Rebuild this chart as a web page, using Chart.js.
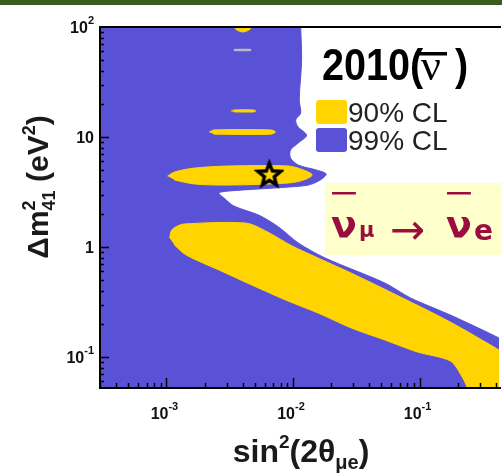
<!DOCTYPE html>
<html>
<head>
<meta charset="utf-8">
<script src="https://cdn.jsdelivr.net/npm/chart.js@4.4.1/dist/chart.umd.min.js"></script>
<style>
  html, body { margin: 0; padding: 0; background: #fff; overflow: hidden; }
  #wrap { width: 502px; height: 476px; position: relative; overflow: hidden; }
</style>
</head>
<body>
<div id="wrap"><canvas id="c" width="503" height="476"></canvas></div>
<script>
// sin^2(2theta) range and dm^2 range shown in the picture
const xRange = [2.985e-4, 0.4246];
const yRange = [0.0523, 100];

// 99% CL allowed region (one closed contour)
const cl99X = [2.9e-4, 1.15e-2, 1.15e-2, 1.17e-2, 1.12e-2, 1.15e-2, 1.05e-2, 1.10e-2, 1.28e-2, 1.10e-2,
               9.56e-3, 9.56e-3, 1.10e-2, 1.53e-2, 1.83e-2, 1.64e-2, 1.32e-2, 9.22e-3, 5.36e-3, 3.12e-3,
               2.60e-3, 2.85e-3, 3.41e-3, 5.36e-3, 7.69e-3, 1.10e-2, 1.80e-2, 5.31e-2, 8.50e-2, 0.175,
               0.424, 0.45, 0.45, 2.9e-4];
const cl99Y = [105, 105, 100, 50.1, 21.7, 16.5, 14.3, 12.3, 10.4, 8.82,
               7.62, 6.44, 5.56, 5.01, 4.61, 4.06, 3.66, 3.51, 3.37, 3.23,
               3.10, 2.79, 2.36, 1.95, 1.52, 1.09, 0.794, 0.471, 0.344, 0.241,
               0.149, 0.14, 0.045, 0.045];

// 90% CL islands
const cl90BandX = [1.06e-3, 1.09e-3, 1.18e-3, 1.38e-3, 4.24e-3, 6.08e-3, 9.73e-3, 1.58e-2, 2.88e-2, 7.09e-2,
                   0.175, 0.424, 0.45, 0.45, 0.238, 0.238, 0.217, 0.175, 9.64e-2, 5.31e-2,
                   2.88e-2, 1.58e-2, 8.73e-3, 4.73e-3, 2.60e-3, 1.43e-3, 1.16e-3];
const cl90BandY = [1.21, 1.40, 1.52, 1.62, 1.65, 1.40, 1.03, 0.794, 0.580, 0.351,
                   0.208, 0.116, 0.11, 0.045, 0.045, 0.0523, 0.066, 0.092, 0.111, 0.143,
                   0.184, 0.251, 0.330, 0.451, 0.618, 0.846, 1.04];
const cl90LobeX = [1.02e-3, 1.16e-3, 1.66e-3, 3.12e-3, 9.22e-3, 1.21e-2, 1.42e-2, 1.21e-2, 9.22e-3, 3.12e-3, 1.66e-3, 1.16e-3];
const cl90LobeY = [4.42, 4.81, 5.22, 5.45, 5.45, 5.01, 4.52, 4.06, 3.82, 3.66, 3.74, 4.06];
const cl90BarX = [2.17e-3, 2.38e-3, 6.66e-3, 7.29e-3, 6.66e-3, 2.38e-3];
const cl90BarY = [11.1, 11.6, 11.6, 11.1, 10.6, 10.6];
const cl90SliverX = [3.24e-3, 3.41e-3, 4.90e-3, 5.08e-3, 4.90e-3, 3.41e-3];
const cl90SliverY = [17.2, 17.6, 17.6, 17.2, 16.9, 16.9];
const cl90HairX = [3.41e-3, 4.64e-3, 4.64e-3, 3.41e-3];
const cl90HairY = [62.6, 62.6, 61.0, 61.0];
const cl90CapX = [3.41e-3, 3.60e-3, 4.02e-3, 4.48e-3, 4.73e-3, 4.73e-3, 3.41e-3];
const cl90CapY = [100, 93.9, 90.1, 93.9, 100, 105, 105];

// best fit point
const bestFitX = [6.5e-3];
const bestFitY = [4.6];

// axis ticks
const xTickValues = [1e-3, 1e-2, 1e-1];
const xTickExps = ['-3', '-2', '-1'];
const yTickValues = [100, 10, 1, 0.1];
const yTickBases = ['10', '10', '1', '10'];
const yTickExps = ['2', '', '', '-1'];

const BLUE = '#5951d6';
const YELLOW = '#ffd400';

function pts(xs, ys) {
    return xs.map((x, i) => ({ x: x, y: ys[i] }));
}

function region(label, xs, ys, color, order) {
    return {
        label: label,
        data: pts(xs, ys),
        borderColor: color,
        backgroundColor: color,
        borderWidth: 1,
        fill: 'shape',
        pointRadius: 0,
        pointBorderWidth: 0,
        tension: 0.3,
        order: order
    };
}

function makeStar() {
    const c = document.createElement('canvas');
    c.width = 30;
    c.height = 30;
    const g = c.getContext('2d');
    g.beginPath();
    for (let i = 0; i < 10; i++) {
        const r = i % 2 === 0 ? 12 : 5.2;
        const a = -Math.PI / 2 + i * Math.PI / 5;
        const px = 15 + r * Math.cos(a);
        const py = 16 + r * Math.sin(a);
        if (i === 0) g.moveTo(px, py); else g.lineTo(px, py);
    }
    g.closePath();
    g.fillStyle = YELLOW;
    g.fill();
    g.lineWidth = 3.4;
    g.lineJoin = 'miter';
    g.strokeStyle = '#000';
    g.stroke();
    return c;
}

// draw a run of text pieces; a piece with stack:true does not advance the pen
function drawRich(ctx, parts, x, y) {
    let cx = x;
    parts.forEach(p => {
        ctx.font = p.f;
        ctx.fillText(p.t, cx, y + (p.dy || 0));
        if (!p.stack) cx += ctx.measureText(p.t).width;
    });
    return cx;
}

function richWidth(ctx, parts) {
    let w = 0;
    parts.forEach(p => {
        ctx.font = p.f;
        if (!p.stack) w += ctx.measureText(p.t).width;
    });
    return w;
}

const SANS = "'Liberation Sans', Arial, sans-serif";

const decor = {
    id: 'decor',
    beforeDraw(chart) {
        const ctx = chart.ctx;
        ctx.save();
        ctx.fillStyle = '#fff';
        ctx.fillRect(0, 0, chart.width, chart.height);
        ctx.fillStyle = '#3b5c1e';
        ctx.fillRect(0, 0, chart.width, 5);
        ctx.restore();
    },
    afterDatasetsDraw(chart) {
        const ctx = chart.ctx;
        const a = chart.chartArea;
        const xs = chart.scales.x;
        const ys = chart.scales.y;
        ctx.save();

        // frame
        ctx.strokeStyle = '#000';
        ctx.lineWidth = 2;
        ctx.beginPath();
        ctx.moveTo(a.right + 2, a.top);
        ctx.lineTo(a.left, a.top);
        ctx.lineTo(a.left, a.bottom);
        ctx.lineTo(a.right + 2, a.bottom);
        ctx.stroke();

        // inward log ticks
        ctx.lineWidth = 1.5;
        for (let d = -4; d <= 2; d++) {
            for (let m = 1; m <= 9; m++) {
                const v = m * Math.pow(10, d);
                const len = m === 1 ? 10 : 5;
                if (v > xRange[0] && v < xRange[1]) {
                    const px = Math.round(xs.getPixelForValue(v)) + 0.5;
                    ctx.beginPath();
                    ctx.moveTo(px, a.bottom);
                    ctx.lineTo(px, a.bottom - len);
                    ctx.stroke();
                }
                if (v > yRange[0] && v < yRange[1]) {
                    const py = Math.round(ys.getPixelForValue(v)) + 0.5;
                    ctx.beginPath();
                    ctx.moveTo(a.left, py);
                    ctx.lineTo(a.left + len - 1, py);
                    ctx.stroke();
                }
            }
        }

        // tick labels
        ctx.fillStyle = '#111';
        ctx.textBaseline = 'alphabetic';
        ctx.textAlign = 'left';
        xTickValues.forEach((v, i) => {
            const px = xs.getPixelForValue(v);
            const parts = [
                { t: '10', f: 'bold 16px ' + SANS },
                { t: xTickExps[i], f: 'bold 11px ' + SANS, dy: -9 }
            ];
            const w = richWidth(ctx, parts);
            drawRich(ctx, parts, px - w / 2 - 2, 419);
        });
        yTickValues.forEach((v, i) => {
            const py = ys.getPixelForValue(v);
            const parts = [{ t: yTickBases[i], f: 'bold 16px ' + SANS }];
            if (yTickExps[i]) parts.push({ t: yTickExps[i], f: 'bold 11px ' + SANS, dy: -9 });
            const w = richWidth(ctx, parts);
            drawRich(ctx, parts, 94 - w, py + 6);
        });

        // axis titles
        ctx.fillStyle = '#1a1a1a';
        const xt = [
            { t: 'sin', f: 'bold 32px ' + SANS },
            { t: '2', f: 'bold 19px ' + SANS, dy: -14 },
            { t: '(2\u03b8', f: 'bold 32px ' + SANS },
            { t: '\u03bce', f: 'bold 20px ' + SANS, dy: 7 },
            { t: ')', f: 'bold 32px ' + SANS }
        ];
        drawRich(ctx, xt, 301 - richWidth(ctx, xt) / 2, 462);

        const yt = [
            { t: '\u0394m', f: 'bold 30px ' + SANS },
            { t: '2', f: 'bold 18px ' + SANS, dy: -13, stack: true },
            { t: '41', f: 'bold 18px ' + SANS, dy: 7 },
            { t: ' (eV', f: 'bold 30px ' + SANS },
            { t: '2', f: 'bold 18px ' + SANS, dy: -13 },
            { t: ')', f: 'bold 30px ' + SANS }
        ];
        ctx.save();
        ctx.translate(48, 187);
        ctx.rotate(-Math.PI / 2);
        drawRich(ctx, yt, -richWidth(ctx, yt) / 2, 0);
        ctx.restore();

        // run label 2010(nu-bar)
        ctx.fillStyle = '#000';
        ctx.save();
        ctx.translate(322, 80);
        ctx.scale(0.88, 1);
        drawRich(ctx, [{ t: '2010(', f: 'bold 45px ' + SANS }], 0, 0);
        ctx.restore();
        ctx.font = "44px 'Liberation Serif', serif";
        ctx.fillText('\u03bd', 421, 80);
        ctx.fillRect(418, 52, 29, 3.5);
        ctx.save();
        ctx.translate(455, 80);
        ctx.scale(0.88, 1);
        drawRich(ctx, [{ t: ')', f: 'bold 45px ' + SANS }], 0, 0);
        ctx.restore();

        // legend from the dataset labels
        const legendItems = [
            { label: chart.data.datasets[0].label, color: YELLOW, y: 100 },
            { label: chart.data.datasets[6].label, color: BLUE, y: 128 }
        ];
        legendItems.forEach(it => {
            ctx.fillStyle = it.color;
            ctx.beginPath();
            ctx.roundRect(316, it.y, 31, 24, 3);
            ctx.fill();
            ctx.fillStyle = '#222';
            ctx.font = '28px ' + SANS;
            ctx.fillText(it.label, 348, it.y + 22);
        });

        // channel box
        ctx.fillStyle = '#ffffcc';
        ctx.fillRect(325, 183, 178, 72);
        ctx.fillStyle = '#9b0d3e';
        const NU = "bold 38px 'DejaVu Sans', sans-serif";
        ctx.font = NU;
        const nw = ctx.measureText('\u03bd').width;
        ctx.fillText('\u03bd', 331, 237);
        ctx.fillRect(332, 192, nw - 2, 2.5);
        ctx.font = "bold 21px 'DejaVu Sans', sans-serif";
        ctx.fillText('\u03bc', 359, 237);
        ctx.font = "42px 'DejaVu Sans', sans-serif";
        ctx.fillText('\u2192', 390, 244);
        ctx.font = NU;
        ctx.fillText('\u03bd', 446, 237);
        ctx.fillRect(447, 192, nw - 2, 2.5);
        ctx.font = "bold 28px 'DejaVu Sans', sans-serif";
        ctx.fillText('e', 474, 240);

        ctx.restore();
    }
};

new Chart(document.getElementById('c'), {
    type: 'line',
    data: {
        datasets: [
            region('90% CL', cl90BandX, cl90BandY, YELLOW, 1),
            region('90% CL', cl90LobeX, cl90LobeY, YELLOW, 1),
            region('90% CL', cl90BarX, cl90BarY, YELLOW, 1),
            region('90% CL', cl90SliverX, cl90SliverY, YELLOW, 1),
            region('90% CL', cl90HairX, cl90HairY, '#c9c0b8', 1),
            region('90% CL', cl90CapX, cl90CapY, YELLOW, 1),
            region('99% CL', cl99X, cl99Y, BLUE, 2),
            {
                label: 'best fit',
                data: pts(bestFitX, bestFitY),
                showLine: false,
                pointStyle: makeStar(),
                pointRadius: 1,
                pointBorderWidth: 0,
                borderWidth: 0,
                order: 0
            }
        ]
    },
    options: {
        responsive: false,
        animation: false,
        events: [],
        layout: { padding: { left: 100, top: 27, right: 0, bottom: 88 } },
        plugins: {
            legend: { display: false },
            tooltip: { enabled: false },
            filler: { propagate: false }
        },
        scales: {
            x: { type: 'logarithmic', min: xRange[0], max: xRange[1], display: false },
            y: { type: 'logarithmic', min: yRange[0], max: yRange[1], display: false }
        }
    },
    plugins: [decor]
});
</script>
</body>
</html>
